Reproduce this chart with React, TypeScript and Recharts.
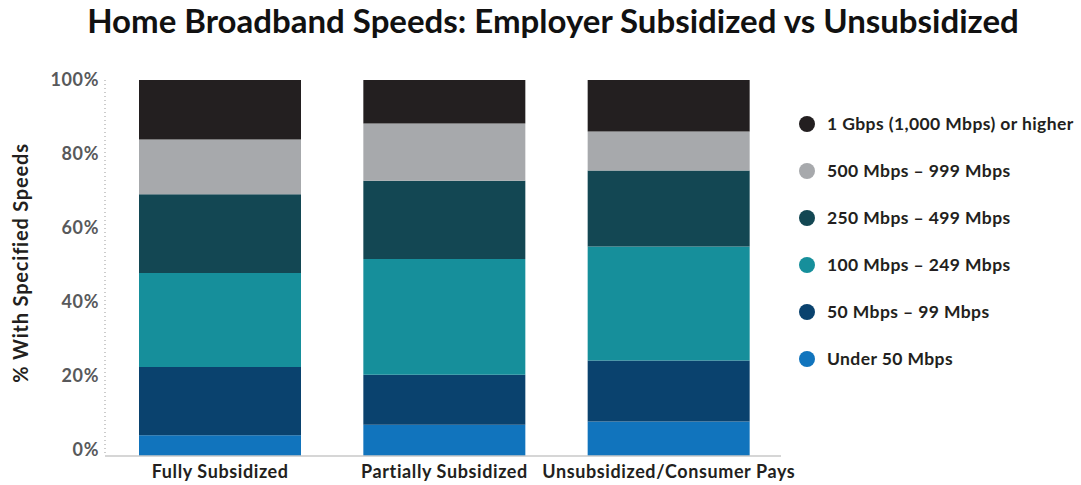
import { BarChart, Bar, XAxis, YAxis } from 'recharts';

const categories = ['Fully Subsidized', 'Partially Subsidized', 'Unsubsidized/Consumer Pays'];

const under50 = [5.5, 8.3, 9.2];
const mbps50to99 = [18.2, 13.3, 16.2];
const mbps100to249 = [25.0, 30.8, 30.3];
const mbps250to499 = [20.9, 20.8, 20.2];
const mbps500to999 = [14.6, 15.2, 10.4];
const gbps1 = [15.8, 11.6, 13.7];

const yTicks = [0, 20, 40, 60, 80, 100];

const series = [
  { key: 'under50', name: 'Under 50 Mbps', values: under50, color: '#1174bd' },
  { key: 'm50', name: '50 Mbps – 99 Mbps', values: mbps50to99, color: '#0a426e' },
  { key: 'm100', name: '100 Mbps – 249 Mbps', values: mbps100to249, color: '#168f9b' },
  { key: 'm250', name: '250 Mbps – 499 Mbps', values: mbps250to499, color: '#134753' },
  { key: 'm500', name: '500 Mbps – 999 Mbps', values: mbps500to999, color: '#a7a9ac' },
  { key: 'g1', name: '1 Gbps (1,000 Mbps) or higher', values: gbps1, color: '#231f20' },
];

const data = categories.map((name, i) => {
  const row: Record<string, string | number> = { name };
  series.forEach((s) => (row[s.key] = s.values[i]));
  return row;
});

const font = 'Lato, "Open Sans", sans-serif';

// tick labels in the original sit a touch above the bar scale near the bottom
const YTick = (props: any) => {
  const { x, y, payload } = props;
  const shift = -(100 - payload.value) * 0.062;
  return (
    <text x={x} y={y + shift} dy={6} textAnchor="end" fill="#58595b" fontSize={18} fontWeight={700} fontFamily={font} letterSpacing={0.6}>
      {payload.value}%
    </text>
  );
};

export default function App() {
  return (
    <div style={{ position: 'absolute', left: 0, top: 0, width: 1081, height: 485, background: '#fff', fontFamily: font }}>
      <div style={{ position: 'absolute', top: 0, left: 0, width: 1106, textAlign: 'center', fontSize: 33, fontWeight: 700, color: '#111' }}>
        Home Broadband Speeds: Employer Subsidized vs Unsubsidized
      </div>
      <BarChart width={1081} height={485} data={data} margin={{ top: 80, right: 300, bottom: 0, left: 0 }} barSize={162}>
        <YAxis
          width={105}
          domain={[0, 100]}
          ticks={yTicks}
          interval={0}
          tickLine={false}
          tickSize={0}
          tickMargin={6}
          axisLine={{ stroke: '#999', strokeDasharray: '1 3' }}
          tick={<YTick />}
          label={{ value: '% With Specified Speeds', angle: -90, position: 'insideLeft', dx: 16, dy: -5, style: { textAnchor: 'middle', fontSize: 20, fontWeight: 700, fill: '#231f20', fontFamily: font, letterSpacing: 0.8 } }}
        />
        <XAxis
          dataKey="name"
          height={29}
          padding={{ left: 3, right: 0 }}
          tickLine={false}
          axisLine={{ stroke: '#c8c8c8', strokeWidth: 1.5 }}
          tick={{ fill: '#231f20', fontSize: 18, fontWeight: 700, fontFamily: font, letterSpacing: 0.6 }}
          tickMargin={3}
          interval={0}
        />
        {series.map((s) => (
          <Bar key={s.key} dataKey={s.key} name={s.name} stackId="a" fill={s.color} isAnimationActive={false} />
        ))}
      </BarChart>
      <div style={{ position: 'absolute', left: 799, top: 100 }}>
        {[...series].reverse().map((s) => (
          <div key={s.key} style={{ display: 'flex', alignItems: 'center', height: 47 }}>
            <span style={{ width: 16, height: 16, borderRadius: 8, background: s.color, display: 'inline-block', marginRight: 12 }} />
            <span style={{ fontSize: 17.5, fontWeight: 700, color: '#231f20', letterSpacing: 0.4 }}>{s.name}</span>
          </div>
        ))}
      </div>
    </div>
  );
}
